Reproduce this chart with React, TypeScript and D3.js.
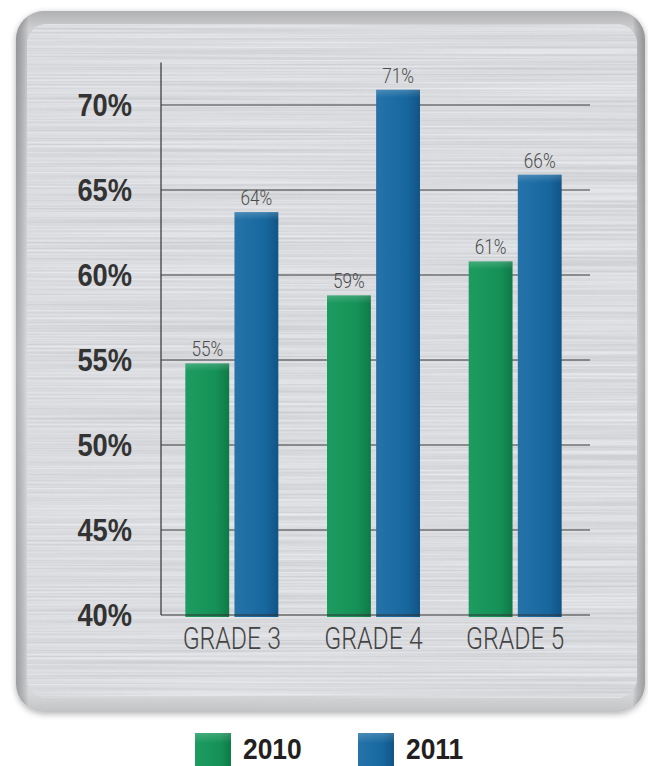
import * as d3 from 'd3';

const categories = ['GRADE 3', 'GRADE 4', 'GRADE 5'];
const years = ['2010', '2011'];
const values2010 = [54.8, 58.8, 60.8];
const values2011 = [63.7, 70.9, 65.9];
const yTicks = [40, 45, 50, 55, 60, 65, 70];

const seriesColors: Record<string, string> = { '2010': 'green', '2011': 'blue' };

const W = 648;
const H = 766;

const App = () => {
  const y = d3.scaleLinear().domain([40, 70]).range([615, 105]);
  const x = d3.scaleBand<string>().domain(categories).range([161, 586]);
  const xSub = d3.scaleBand<string>().domain(years).range([0, 93]).paddingInner(0.107);
  const series = [values2010, values2011];
  const center = (c: string) => (x(c) ?? 0) + x.bandwidth() / 2;
  const narrow = (sx: number, tx: number, ty: number) => `translate(${tx},${ty}) scale(${sx},1)`;

  return (
    <svg width={W} height={H} style={{ position: 'absolute', left: 0, top: 0, background: '#fff' }}>
      <defs>
        <filter id="shadow" x="-5%" y="-5%" width="110%" height="110%">
          <feDropShadow dx="0" dy="2" stdDeviation="3" floodColor="#000" floodOpacity="0.3" />
        </filter>
        <filter id="brushed" x="0" y="0" width="100%" height="100%" colorInterpolationFilters="sRGB">
          <feTurbulence type="fractalNoise" baseFrequency="0.0025 0.5" numOctaves="2" seed="3" result="n" />
          <feColorMatrix
            in="n"
            type="matrix"
            values="0.17 0 0 0 0.77  0.17 0 0 0 0.775  0.17 0 0 0 0.79  0 0 0 0 1"
            result="g"
          />
          <feComposite in="g" in2="SourceGraphic" operator="in" />
        </filter>
        <linearGradient id="frame" x1="0" y1="0" x2="0" y2="1">
          <stop offset="0" stopColor="#8e8f92" />
          <stop offset="0.025" stopColor="#b9babc" />
          <stop offset="0.5" stopColor="#d9dadc" />
          <stop offset="0.975" stopColor="#c4c5c7" />
          <stop offset="1" stopColor="#a8a9ab" />
        </linearGradient>
        <linearGradient id="frameSide" x1="0" y1="0" x2="1" y2="0">
          <stop offset="0" stopColor="#000" stopOpacity="0.2" />
          <stop offset="0.02" stopColor="#fff" stopOpacity="0.3" />
          <stop offset="0.98" stopColor="#fff" stopOpacity="0.3" />
          <stop offset="1" stopColor="#000" stopOpacity="0.2" />
        </linearGradient>
        <linearGradient id="green" x1="0" y1="0" x2="1" y2="0">
          <stop offset="0" stopColor="#1d9c60" />
          <stop offset="0.7" stopColor="#159157" />
          <stop offset="1" stopColor="#0e7a47" />
        </linearGradient>
        <linearGradient id="blue" x1="0" y1="0" x2="1" y2="0">
          <stop offset="0" stopColor="#2573a9" />
          <stop offset="0.7" stopColor="#17679f" />
          <stop offset="1" stopColor="#115485" />
        </linearGradient>
        <linearGradient id="topShine" x1="0" y1="0" x2="0" y2="1">
          <stop offset="0" stopColor="#fff" stopOpacity="0.18" />
          <stop offset="1" stopColor="#fff" stopOpacity="0" />
        </linearGradient>
      </defs>

      {/* metal panel */}
      <rect x={16} y={11} width={629} height={701} rx={28} fill="url(#frame)" filter="url(#shadow)" />
      <rect x={16} y={11} width={629} height={701} rx={28} fill="url(#frameSide)" />
      <rect x={27} y={24} width={610} height={674} rx={20} fill="#dcdde0" />
      <rect x={27} y={24} width={610} height={674} rx={20} fill="#000" filter="url(#brushed)" />

      {/* grid */}
      {yTicks.slice(1).map((t) => (
        <line key={t} x1={161} x2={590} y1={y(t)} y2={y(t)} stroke="#3a3a3a" strokeWidth={1} />
      ))}

      {/* bars */}
      {categories.map((c, i) =>
        years.map((yr, j) => {
          const v = series[j][i];
          const bx = center(c) - 46.5 + (xSub(yr) ?? 0);
          const top = y(v);
          return (
            <g key={c + yr}>
              <rect x={bx} y={top} width={xSub.bandwidth()} height={617 - top} fill={`url(#${seriesColors[yr]})`} />
              <rect x={bx} y={top} width={xSub.bandwidth()} height={8} fill="url(#topShine)" />
              <text
                transform={narrow(0.86, bx + xSub.bandwidth() / 2, top - 7)}
                textAnchor="middle"
                fontFamily="Roboto, 'Liberation Sans', sans-serif"
                fontWeight={300}
                fontSize={20}
                fill="#4a4a4a"
              >
                {Math.round(v)}%
              </text>
            </g>
          );
        }),
      )}

      {/* axes */}
      <line x1={161} x2={161} y1={y(72.5)} y2={615} stroke="#333" strokeWidth={1.2} />
      <line x1={161} x2={590} y1={615} y2={615} stroke="#333" strokeWidth={1.2} />

      {yTicks.map((t) => (
        <text
          key={t}
          transform={narrow(0.88, 132, y(t) + 11)}
          textAnchor="end"
          fontFamily="'Liberation Sans', Arial, sans-serif"
          fontWeight="bold"
          fontSize={31}
          fill="#333"
        >
          {t}%
        </text>
      ))}

      {categories.map((c) => (
        <text
          key={c}
          transform={narrow(0.8, center(c), 649)}
          textAnchor="middle"
          fontFamily="Roboto, 'Liberation Sans', sans-serif"
          fontWeight={300}
          fontSize={31}
          fill="#444"
        >
          {c}
        </text>
      ))}

      {/* legend */}
      {years.map((yr, j) => {
        const lx = j === 0 ? 195 : 358;
        return (
          <g key={yr}>
            <rect x={lx} y={733} width={36} height={36} fill={`url(#${seriesColors[yr]})`} />
            <rect x={lx} y={733} width={36} height={10} fill="url(#topShine)" />
            <text
              transform={narrow(0.88, lx + 48, 759)}
              fontFamily="'Liberation Sans', Arial, sans-serif"
              fontWeight="bold"
              fontSize={30}
              fill="#231f20"
            >
              {yr}
            </text>
          </g>
        );
      })}
    </svg>
  );
};

export default App;
